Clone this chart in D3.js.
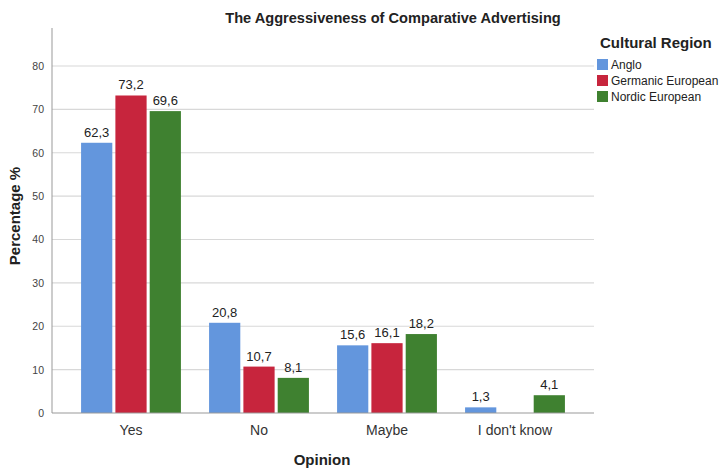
<!DOCTYPE html>
<html><head><meta charset="utf-8">
<script src="https://cdn.jsdelivr.net/npm/d3@7"></script>
<style>body{margin:0;background:#fff;}svg{display:block;font-family:Arial,"Liberation Sans",sans-serif;}</style>
</head><body>
<svg id="c" width="720" height="468"></svg>
<script>
const categories = ["Yes", "No", "Maybe", "I don't know"];
const seriesNames = ["Anglo", "Germanic European", "Nordic European"];
const anglo = [62.3, 20.8, 15.6, 1.3];
const germanic = [73.2, 10.7, 16.1, null];
const nordic = [69.6, 8.1, 18.2, 4.1];
const yTicks = [0, 10, 20, 30, 40, 50, 60, 70, 80];
const colors = ["#6396dd", "#c7253d", "#3f8130"];
const seriesValues = [anglo, germanic, nordic];

const svg = d3.select("#c");
const x0 = 52, x1 = 594, yBase = 413, yTop = 28;
const y = d3.scaleLinear().domain([0, 80]).range([yBase, 66]);
const xBand = d3.scaleBand().domain(categories).range([67, 579]).paddingInner(0.22).paddingOuter(0.11);
const xSub = d3.scaleBand().domain(seriesNames).range([0, xBand.bandwidth()]).paddingInner(0.09);

// gridlines
svg.append("g").selectAll("line").data(yTicks.filter(d => d > 0)).join("line")
  .attr("x1", x0).attr("x2", x1).attr("y1", d => y(d)).attr("y2", d => y(d))
  .attr("stroke", "#d8d8d8").attr("stroke-width", 1.2);

// y axis
const yAxis = d3.axisLeft(y).tickValues(yTicks).tickSize(0).tickPadding(8);
const gy = svg.append("g").attr("transform", `translate(${x0},0)`).call(yAxis);
gy.select(".domain").remove();
gy.selectAll("text").attr("font-size", 10.5).attr("fill", "#444").attr("font-family", "Arial, Liberation Sans, sans-serif");
svg.append("line").attr("x1", x0).attr("x2", x0).attr("y1", yTop).attr("y2", yBase).attr("stroke", "#999").attr("stroke-width", 1);

// bars
const groups = svg.append("g").selectAll("g").data(categories).join("g")
  .attr("transform", d => `translate(${xBand(d)},0)`);
seriesNames.forEach((s, si) => {
  groups.each(function(cat, ci) {
    const v = seriesValues[si][ci];
    if (v == null) return;
    const g = d3.select(this);
    g.append("rect").attr("x", xSub(s)).attr("width", xSub.bandwidth())
      .attr("y", y(v)).attr("height", yBase - y(v)).attr("fill", colors[si]);
    g.append("text").attr("x", xSub(s) + xSub.bandwidth() / 2).attr("y", y(v) - 6)
      .attr("text-anchor", "middle").attr("font-size", 13).attr("fill", "#222")
      .text(String(v.toFixed(1)).replace(".", ","));
  });
});

// x axis
const xAxis = d3.axisBottom(xBand).tickSize(0).tickPadding(12);
const gx = svg.append("g").attr("transform", `translate(0,${yBase})`).call(xAxis);
gx.select(".domain").remove();
gx.selectAll("text").attr("font-size", 14).attr("fill", "#333").attr("font-family", "Arial, Liberation Sans, sans-serif");
svg.append("line").attr("x1", x0).attr("x2", x1).attr("y1", yBase).attr("y2", yBase).attr("stroke", "#999").attr("stroke-width", 1);

// titles
svg.append("text").attr("x", 393).attr("y", 23).attr("text-anchor", "middle")
  .attr("font-size", 14.6).attr("font-weight", "bold").attr("fill", "#222")
  .text("The Aggressiveness of Comparative Advertising");
svg.append("text").attr("x", 322).attr("y", 465).attr("text-anchor", "middle")
  .attr("font-size", 15).attr("font-weight", "bold").attr("fill", "#222").text("Opinion");
svg.append("text").attr("transform", "translate(20,216) rotate(-90)").attr("text-anchor", "middle")
  .attr("font-size", 15).attr("font-weight", "bold").attr("fill", "#222").text("Percentage %");

// legend
svg.append("text").attr("x", 600).attr("y", 48).attr("font-size", 15).attr("font-weight", "bold")
  .attr("fill", "#222").text("Cultural Region");
const lg = svg.append("g").selectAll("g").data(seriesNames).join("g")
  .attr("transform", (d, i) => `translate(597,${59 + i * 16})`);
lg.append("rect").attr("width", 11).attr("height", 11).attr("fill", (d, i) => colors[i]);
lg.append("text").attr("x", 14).attr("y", 10).attr("font-size", 12).attr("fill", "#222").text(d => d);
</script>
</body></html>
